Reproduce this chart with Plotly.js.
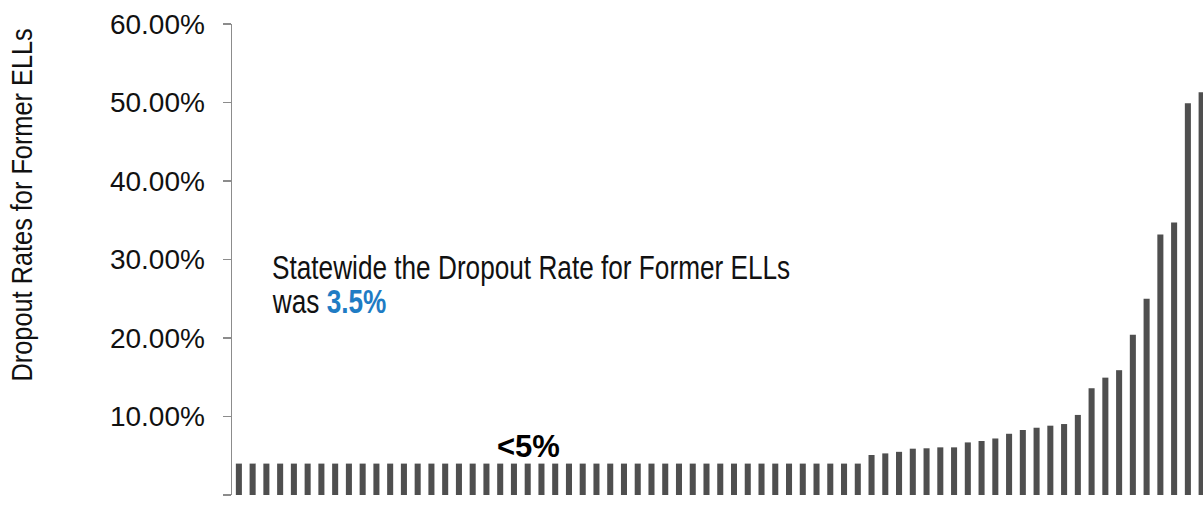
<!DOCTYPE html>
<html>
<head>
<meta charset="utf-8">
<script src="https://cdn.plot.ly/plotly-3.0.1.min.js"></script>
<style>html,body{margin:0;padding:0;background:#fff;}#chart{width:1203px;height:508px;}</style>
</head>
<body>
<div id="chart"></div>
<script>
// Districts sorted by dropout rate of former ELLs (suppressed values shown as <5%)
const flatCount = 46;
const flatValue = 0.04;
const risingValues = [0.051, 0.053, 0.055, 0.059, 0.0595, 0.0607, 0.0607, 0.067, 0.0688, 0.072,
  0.078, 0.0828, 0.0857, 0.0883, 0.0904, 0.102, 0.136, 0.1495, 0.159, 0.204,
  0.250, 0.332, 0.347, 0.499, 0.513];
const values = Array(flatCount).fill(flatValue).concat(risingValues);
const categories = values.map((v, i) => 'D' + (i + 1));
const yTitle = 'Dropout Rates for Former ELLs';
const noteLine1 = 'Statewide the Dropout Rate for Former ELLs';
const noteLine2 = 'was ';
const statewideRate = '3.5%';
const suppressedLabel = '&lt;5%';

const sans = '"Liberation Sans", Arial, sans-serif';

const trace = {
  type: 'bar',
  x: categories,
  y: values,
  marker: {color: '#4f4f4f'},
  hoverinfo: 'skip'
};

const layout = {
  width: 1203, height: 508,
  margin: {l: 232, r: 0, t: 24, b: 13, pad: 0},
  paper_bgcolor: '#fff', plot_bgcolor: '#fff',
  showlegend: false,
  bargap: 0.56,
  xaxis: {
    type: 'category',
    range: [-0.5, 70.1],
    showticklabels: false, ticks: '', showgrid: false, zeroline: false, showline: false
  },
  yaxis: {
    range: [0, 0.6], dtick: 0.1, tick0: 0, tickformat: '.2%',
    showgrid: false, zeroline: false,
    showline: true, linecolor: '#8c8c8c', linewidth: 1.5,
    ticks: 'outside', ticklen: 8, tickcolor: '#8c8c8c', tickwidth: 1.5,
    ticklabelstandoff: 12,
    tickfont: {family: sans, size: 28, color: '#111'}
  },
  annotations: [
    {xref: 'paper', yref: 'paper', x: -0.216, y: 0.616, xanchor: 'center', yanchor: 'middle',
     textangle: -90, showarrow: false, text: yTitle,
     font: {family: sans, size: 29, color: '#111'}},
    {xref: 'paper', yref: 'paper', x: 0.039, y: 0.482, xanchor: 'left', yanchor: 'middle',
     align: 'left', showarrow: false, text: noteLine1,
     font: {family: sans, size: 33, color: '#111'}},
    {xref: 'paper', yref: 'paper', x: 0.039, y: 0.410, xanchor: 'left', yanchor: 'middle',
     align: 'left', showarrow: false,
     text: noteLine2 + '<b><span style="color:#1f7cc4">' + statewideRate + '</span></b>',
     font: {family: sans, size: 33, color: '#111'}},
    {xref: 'paper', yref: 'paper', x: 0.305, y: 0.102, xanchor: 'center', yanchor: 'middle',
     showarrow: false, text: '<b>' + suppressedLabel + '</b>',
     font: {family: sans, size: 31, color: '#000'}}
  ]
};

// condense the narrow-font texts horizontally (the reference uses a narrow face)
function squeeze(idx, sx, origin) {
  const ann = document.querySelectorAll('#chart .annotation')[idx];
  if (!ann) return;
  const t = ann.querySelector('text.annotation-text');
  if (!t) return;
  const bb = t.getBBox();
  const ox = origin === 'left' ? bb.x : bb.x + bb.width / 2;
  t.setAttribute('transform', 'translate(' + ox + ',0) scale(' + sx + ',1) translate(' + (-ox) + ',0)');
}

Plotly.newPlot('chart', [trace], layout, {displayModeBar: false, staticPlot: true}).then(function () {
  squeeze(0, 0.873, 'center');
  squeeze(1, 0.794, 'left');
  squeeze(2, 0.794, 'left');
});
</script>
</body>
</html>
